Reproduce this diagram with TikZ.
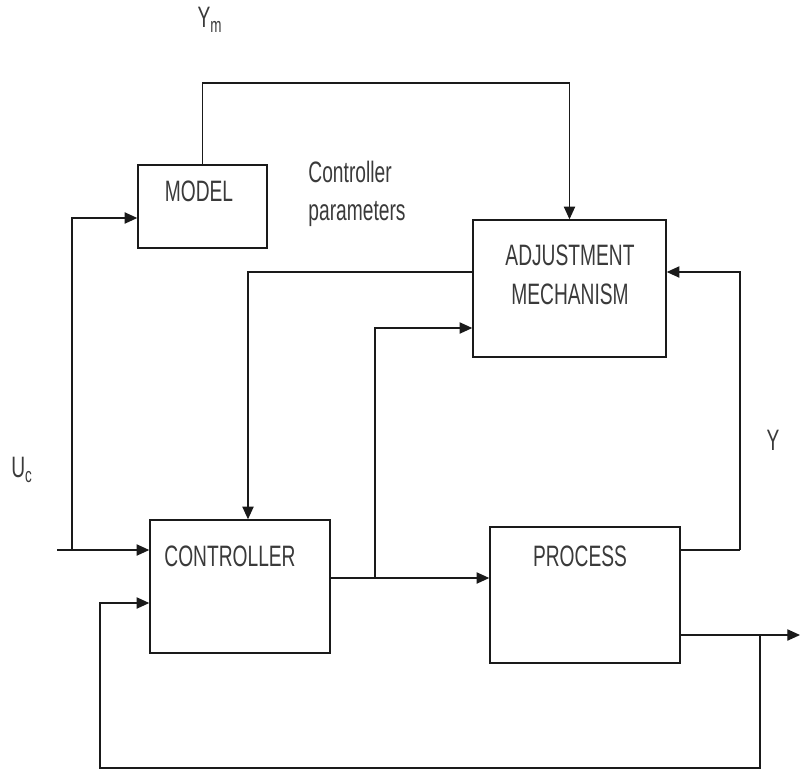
\documentclass[tikz,border=0pt]{standalone}
\usepackage{fontspec}
\setmainfont{Liberation Sans}[FakeStretch=0.65]
\usepackage{tikz}
\usetikzlibrary{arrows.meta, positioning}
\definecolor{linecol}{HTML}{1A1A1A}
\definecolor{textcol}{HTML}{3A3A3A}

\begin{document}
\begin{tikzpicture}[x=0.025cm, y=-0.025cm,
    box/.style={draw=linecol, line width=1pt, inner sep=0pt},
    lbl/.style={text=textcol, font=\fontsize{21}{24}\selectfont, inner sep=0pt},
    arr/.style={draw=linecol, line width=0.9pt, -{Triangle[length=9pt, width=8pt]}},
    lin/.style={draw=linecol, line width=0.9pt}
]

  % Rahmen
  \useasboundingbox (0,0) rectangle (803,771);

  % Bloecke
  \node[box, minimum width=3.225cm, minimum height=2.075cm] (model) at (202.5,206.5) {};
  \node[box, minimum width=4.825cm, minimum height=3.425cm] (adjust) at (569.5,288.5) {};
  \node[box, minimum width=4.5cm, minimum height=3.325cm] (ctrl) at (240,586.5) {};
  \node[box, minimum width=4.75cm, minimum height=3.4cm] (proc) at (585,595) {};

  % Beschriftung der Bloecke
  \node[lbl] (modelT) at (199,191) {MODEL};
  \node[lbl, align=center] (adjustT) at (570,275) {ADJUSTMENT\\[4pt]MECHANISM};
  \node[lbl] (ctrlT) at (230,556) {CONTROLLER};
  \node[lbl] (procT) at (580,556) {PROCESS};

  % Signale
  \node[lbl] (ym) at (210,20) {Y\textsubscript{m}};
  \node[lbl] (uc) at (22,470) {U\textsubscript{c}};
  \node[lbl] (y) at (773,440) {Y};
  \node[lbl, align=left] (par) at (357,194) {Controller\\[3pt]parameters};

  % Hilfspunkte
  \coordinate (top) at (0,83);
  \coordinate (ucIn) at (57,550);
  \coordinate (b1) at (72,550);
  \coordinate (mIn) at (72,218);
  \coordinate (cOut) at (0,578);
  \coordinate (b2) at (375,578);
  \coordinate (aIn) at (0,328);
  \coordinate (yR) at (740,550);
  \coordinate (aY) at (0,272);
  \coordinate (cp) at (248,272);
  \coordinate (out) at (800,635);
  \coordinate (fb) at (760,768);
  \coordinate (fb2) at (100,603);

  % Modell -> Anpassung
  \draw[arr] (model.north) |- (top -| adjust.north) -- (adjust.north);

  % Eingang U_c
  \draw[arr] (ucIn) -- (ucIn -| ctrl.west);
  \draw[arr] (b1) |- (mIn -| model.west);

  % Regler -> Prozess
  \draw[arr] (cOut -| ctrl.east) -- (cOut -| proc.west);
  \draw[arr] (b2) |- (aIn -| adjust.west);

  % Prozess -> Anpassung
  \draw[lin] (yR -| proc.east) -- (yR);
  \draw[arr] (yR) |- (aY -| adjust.east);

  % Anpassung -> Regler
  \draw[arr] (cp -| adjust.west) -- (cp) -- (cp |- ctrl.north);

  % Ausgang und Rueckfuehrung
  \draw[arr] (out -| proc.east) -- (out);
  \draw[arr] (fb |- out) -- (fb) -| (fb2) -- (fb2 -| ctrl.west);

\end{tikzpicture}
\end{document}
